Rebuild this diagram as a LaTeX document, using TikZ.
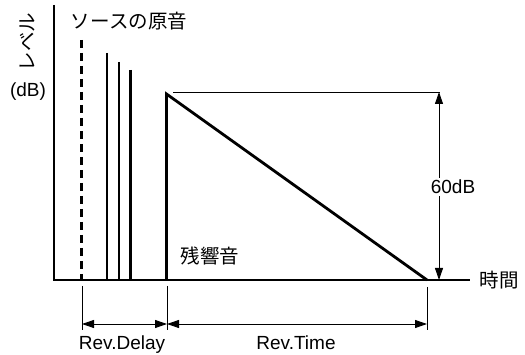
\documentclass[tikz,border=0pt]{standalone}
\usepackage{fontspec}
\setmainfont{Liberation Sans}
\newfontfamily\jp{Noto Sans CJK JP}
\usetikzlibrary{arrows.meta}
\begin{document}
\begin{tikzpicture}[x=1pt,y=-1pt,
  lbl/.style={font=\fontsize{19}{21}\selectfont, inner sep=1pt},
  jlbl/.style={font=\fontsize{19.5}{21}\selectfont\jp, inner sep=1pt},
  axisline/.style={line width=1.3pt},
  sig/.style={line width=2.8pt},
  thin/.style={line width=0.9pt},
  dim/.style={line width=0.9pt, {Triangle[length=12pt,width=8pt]}-{Triangle[length=12pt,width=8pt]}}
]
\useasboundingbox (0,0) rectangle (525,355);
% axes
\coordinate (ytop) at (54,5);
\coordinate (org) at (54,280);
\coordinate (xend) at (470,280);
\draw[axisline] (ytop) -- (org) -- (xend);
% direct sound (dashed)
\coordinate (d0) at (81.5,40);
\coordinate (d1) at (81.5,280);
\draw[sig, dash pattern=on 8pt off 5pt] (d0) -- (d1);
% early reflections
\coordinate (e1t) at (107,53); \coordinate (e1b) at (107,280);
\coordinate (e2t) at (119,62); \coordinate (e2b) at (119,280);
\coordinate (e3t) at (130.5,70); \coordinate (e3b) at (130.5,280);
\draw[sig] (e1t) -- (e1b);
\draw[sig] (e2t) -- (e2b);
\draw[sig] (e3t) -- (e3b);
% reverb
\coordinate (rb) at (166.5,280);
\coordinate (rt) at (166.5,94);
\coordinate (re) at (427,280);
\draw[sig, line join=miter] (rb) -- (rt) -- (re);
% 60dB level
\coordinate (h0) at (173,92);
\coordinate (h1) at (440,92);
\draw[thin] (h0) -- (h1);
\coordinate (a0) at (439,92);
\coordinate (a1) at (439,280);
\draw[dim] (a0) -- (a1);
\node[lbl, fill=white, inner sep=2pt] (db60) at (453,187) {60dB};
% dimension extensions
\coordinate (x1t) at (82,286); \coordinate (x1b) at (82,330);
\coordinate (x2t) at (167,286); \coordinate (x2b) at (167,330);
\coordinate (x3t) at (427,287); \coordinate (x3b) at (427,330);
\draw[thin] (x1t) -- (x1b);
\draw[thin] (x2t) -- (x2b);
\draw[thin] (x3t) -- (x3b);
\coordinate (m1) at (82,324); \coordinate (m2) at (167,324); \coordinate (m3) at (427,324);
\draw[dim] (m1) -- (m2);
\draw[dim] (m2) -- (m3);
% labels
\node[lbl, anchor=base] (rd) at (122,350) {Rev.Delay};
\node[lbl, anchor=base] (rtm) at (296,350) {Rev.Time};
\node[jlbl] (src) at (129,21) {ソースの原音};
\node[jlbl] (rev) at (210,256) {残響音};
\node[jlbl] (time) at (499,280) {時間};
\node[jlbl, rotate=90] (lev) at (27,42) {レベル};
\node[lbl] (dB) at (28,92) {(dB)};
\end{tikzpicture}
\end{document}
